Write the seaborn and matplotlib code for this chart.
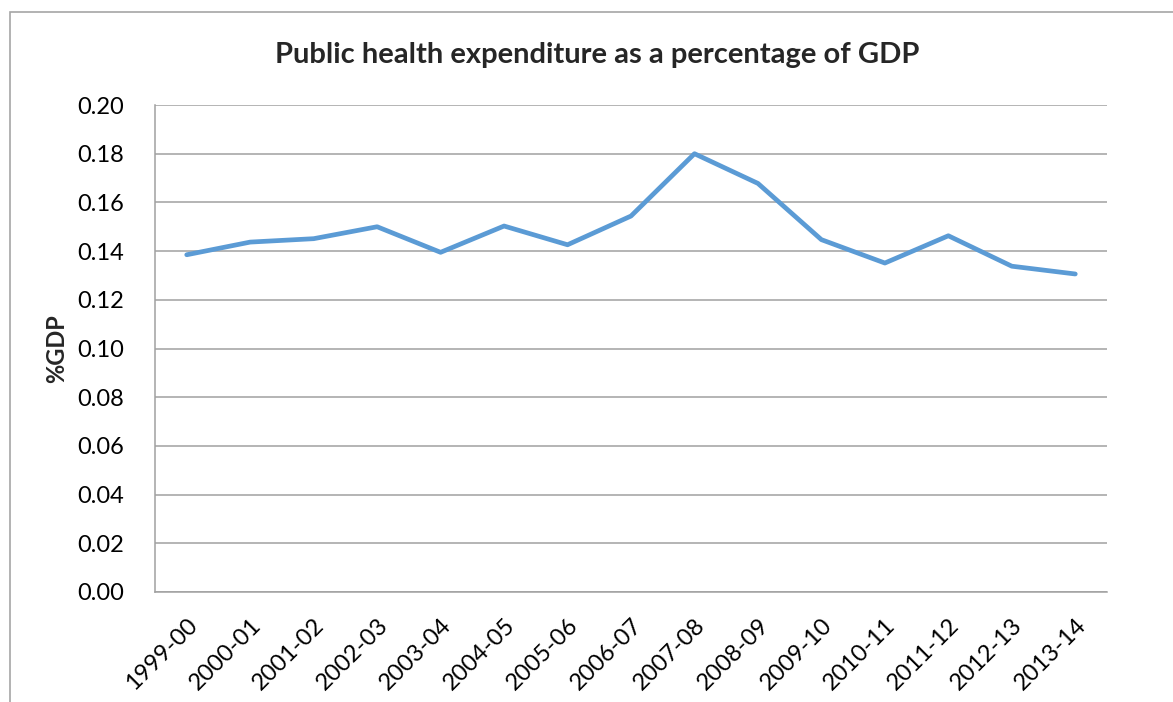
import pandas as pd
import matplotlib.pyplot as plt
import matplotlib.patches as mpatches
import seaborn as sns

# ---- Data ----
years = ["1999-00", "2000-01", "2001-02", "2002-03", "2003-04", "2004-05", "2005-06",
         "2006-07", "2007-08", "2008-09", "2009-10", "2010-11", "2011-12", "2012-13", "2013-14"]
pct_gdp = [0.1385, 0.1437, 0.1451, 0.1500, 0.1395, 0.1503, 0.1426,
           0.1544, 0.1800, 0.1678, 0.1447, 0.1351, 0.1463, 0.1338, 0.1306]
y_ticks = [0.00, 0.02, 0.04, 0.06, 0.08, 0.10, 0.12, 0.14, 0.16, 0.18, 0.20]

df = pd.DataFrame({"year": years, "pct": pct_gdp})

# ---- Style ----
sns.set_style("white")
plt.rcParams["font.family"] = ["Lato", "DejaVu Sans"]

fig = plt.figure(figsize=(11.73, 7.02), dpi=100)
ax = fig.add_axes([155 / 1173, 1 - 592 / 702, (1107 - 155) / 1173, (592 - 105) / 702])

# outer chart border (Excel-style frame)
fig.patches.append(mpatches.Rectangle((10 / 1173, -0.1), 1.2, 1 - 12 / 702 + 0.1,
                                      transform=fig.transFigure, fill=False,
                                      edgecolor="#a6a6a6", linewidth=1.2))

sns.lineplot(data=df, x="year", y="pct", sort=False, color="#5b9bd5", linewidth=3.4,
             solid_capstyle="round", solid_joinstyle="round", ax=ax)

# ---- Axes formatting ----
ax.set_xlim(-0.5, len(years) - 0.5)
ax.set_ylim(0, 0.20)
ax.set_yticks(y_ticks)
ax.set_yticklabels([f"{v:.2f}" for v in y_ticks], fontsize=17)
ax.yaxis.grid(True, color="#a0a0a0", linewidth=1.1)
ax.set_axisbelow(True)
ax.tick_params(axis="y", length=0, pad=22, colors="black")
ax.set_xticks(range(len(years)))
ax.set_xticklabels(years, fontsize=17, rotation=45, ha="right", rotation_mode="anchor")
ax.tick_params(axis="x", length=0, pad=16, colors="black")

for side in ["top", "right"]:
    ax.spines[side].set_visible(False)
for side in ["left", "bottom"]:
    ax.spines[side].set_color("#a0a0a0")
    ax.spines[side].set_linewidth(1.1)

ax.set_xlabel("")
ax.set_ylabel("%GDP", fontsize=17, fontweight="bold")
ax.yaxis.set_label_coords((68 - 155) / 952, 0.5)
fig.text(597 / 1173, 1 - 55 / 702, "Public health expenditure as a percentage of GDP",
         fontsize=21, fontweight="bold", ha="center", va="center")

fig.savefig("out.png", dpi=100)
